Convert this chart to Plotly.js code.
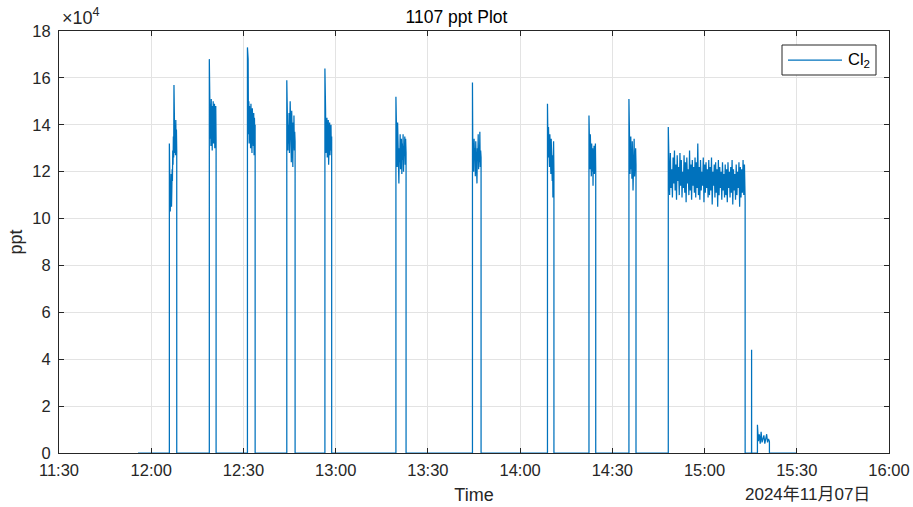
<!DOCTYPE html>
<html>
<head>
<meta charset="utf-8">
<script src="https://cdn.plot.ly/plotly-3.0.1.min.js"></script>
<style>html,body{margin:0;padding:0;background:#fff}#chart{width:913px;height:507px}</style>
</head>
<body>
<div id="chart"></div>
<script>
// ---- data (values in units of 10^4 ppt) ----
const chartDate = '2024-11-07';
const recordStart = '11:55:42';
const recordEnd = '15:30:00';

const segmentStarts = ['12:05:54','12:18:54','12:31:18','12:44:06','12:56:30','13:19:36','13:44:30','14:08:54','14:22:24','14:35:24','14:48:12','15:15:17','15:17:12'];
const segmentEnds   = ['12:08:18','12:21:06','12:33:48','12:46:48','12:58:42','13:22:54','13:47:18','14:11:00','14:24:36','14:37:42','15:13:12','15:15:19','15:21:06'];

const peak1  = [13.2, 11.8, 10.9, 10.3, 11.4, 10.6, 11.9, 10.5, 11.2, 12.1, 11.6, 12.9, 12.3, 13.5, 12.6, 15.7, 13.1, 14.1, 12.8, 13.9, 12.7, 14.2, 13.0, 13.8, 12.9];
const peak2  = [16.8, 14.2, 15.7, 13.4, 14.9, 13.1, 15.1, 13.6, 14.7, 12.9, 14.8, 13.8, 15.0, 13.2, 14.6, 13.5, 14.9, 13.0, 14.4, 13.7, 14.8, 13.3];
const peak3  = [17.3, 14.5, 16.8, 13.6, 15.0, 13.2, 14.8, 13.9, 14.4, 13.0, 14.9, 13.4, 14.6, 12.8, 14.7, 13.5, 14.2, 13.1, 14.5, 12.7, 14.3, 13.6, 14.0];
const peak4  = [15.9, 13.5, 14.2, 12.9, 14.0, 13.2, 14.5, 12.8, 13.9, 15.0, 13.1, 14.3, 12.4, 14.6, 13.4, 13.8, 12.2, 14.1, 13.0, 14.4, 12.9, 13.7, 13.3];
const peak5  = [16.4, 13.2, 14.6, 12.8, 14.0, 13.5, 14.3, 12.6, 13.9, 13.1, 14.2, 12.3, 13.8, 13.4, 14.1, 12.7, 13.6, 13.0, 14.0, 12.9, 13.5];
const peak6  = [15.2, 12.9, 13.5, 12.2, 14.1, 12.6, 13.3, 11.5, 13.0, 12.4, 13.6, 12.1, 12.8, 13.4, 11.9, 13.2, 12.5, 13.6, 12.0, 13.1, 12.7, 13.5, 12.3, 13.4, 12.8];
const peak7  = [15.8, 12.4, 13.2, 12.0, 13.4, 12.6, 13.0, 11.8, 13.3, 12.3, 12.9, 11.5, 13.0, 12.5, 13.6, 12.1, 12.8, 12.4, 13.7, 12.2, 12.9, 12.6];
const peak8  = [14.9, 13.2, 12.6, 13.9, 12.4, 13.5, 12.2, 13.6, 12.8, 13.1, 11.9, 13.4, 12.3, 13.0, 11.6, 12.7, 10.9, 12.5, 13.3, 12.0];
const peak9  = [14.4, 12.6, 13.3, 12.1, 13.6, 12.4, 12.9, 11.8, 13.2, 12.5, 12.0, 13.0, 11.4, 12.7, 12.2, 13.1, 11.9, 12.8, 12.3, 13.2, 12.0];
const peak10 = [15.1, 12.2, 13.0, 11.9, 12.6, 13.5, 12.1, 12.8, 11.7, 13.3, 12.4, 11.2, 12.9, 12.0, 13.4, 11.8, 12.5, 12.1, 13.0, 12.3];
const peak11 = [13.9,
  12.4, 11.0, 12.8, 11.3, 12.1, 10.9, 12.6, 11.5, 12.9, 11.2,
  12.3, 10.8, 12.7, 11.6, 12.2, 11.0, 12.8, 11.4, 12.5, 10.9,
  12.0, 11.3, 12.7, 11.1, 12.4, 10.7, 12.6, 11.5, 12.1, 11.0,
  12.9, 11.2, 12.3, 10.8, 12.5, 11.4, 12.2, 11.1, 12.6, 10.9,
  12.4, 11.3, 13.2, 11.0, 12.2, 10.8, 12.5, 11.2, 12.0, 11.4,
  12.6, 10.7, 12.3, 11.1, 12.4, 11.3, 12.1, 10.9, 12.5, 11.0,
  12.2, 11.2, 12.6, 10.6, 12.0, 11.4, 12.3, 10.9, 12.4, 11.1,
  12.1, 10.5, 12.5, 11.0, 12.2, 11.3, 12.0, 10.8, 12.4, 11.2,
  11.9, 10.9, 12.3, 11.0, 12.1, 10.7, 12.4, 11.3, 12.0, 10.9,
  12.2, 11.1, 12.5, 10.6, 12.1, 11.2, 11.9, 10.8, 12.3, 11.0,
  12.0, 11.3, 12.4, 10.5, 12.2, 10.9, 12.1, 11.1, 12.5, 11.0,
  12.3, 10.8];
const spike12 = [4.4];
const tail13  = [1.2, 0.5, 0.8, 0.4, 0.9, 0.45, 0.6, 0.75, 0.4, 0.55, 0.8, 0.45, 0.6, 0.5];

const segmentValues = [peak1, peak2, peak3, peak4, peak5, peak6, peak7, peak8, peak9, peak10, peak11, spike12, tail13];

const yTickLabels = ['0','2','4','6','8','10','12','14','16','18'];
const xTickLabels = ['11:30','12:00','12:30','13:00','13:30','14:00','14:30','15:00','15:30','16:00'];
const seriesName = 'Cl<sub>2</sub>';
const UNIT = 1e4;

// ---- build the series ----
function toSec(t){const p=t.split(':').map(Number);return p[0]*3600+p[1]*60+p[2];}
function pad(n){return (n<10?'0':'')+n;}
function toStamp(sec){
  const h=Math.floor(sec/3600), m=Math.floor((sec%3600)/60), s=sec-h*3600-m*60;
  return chartDate+' '+pad(h)+':'+pad(m)+':'+(s<10?'0':'')+s.toFixed(2);
}
const xs=[], ys=[];
xs.push(toStamp(toSec(recordStart))); ys.push(0);
segmentValues.forEach((vals,i)=>{
  const a=toSec(segmentStarts[i]), b=toSec(segmentEnds[i]);
  xs.push(toStamp(a)); ys.push(0);
  const n=vals.length;
  vals.forEach((v,k)=>{
    const t = n>1 ? a+(b-a)*k/(n-1) : (a+b)/2;
    xs.push(toStamp(t)); ys.push(v*UNIT);
  });
  xs.push(toStamp(b)); ys.push(0);
});
xs.push(toStamp(toSec(recordEnd))); ys.push(0);

const xTickVals = xTickLabels.map(l=>chartDate+' '+l+':00');
const yTickVals = yTickLabels.map(l=>Number(l)*UNIT);

const FONT = 'Liberation Sans, Arial, Helvetica, sans-serif';
const AX = '#262626';
const LINE = '#0072BD';

// plot-area pixel helpers for the hand-drawn legend box (plot: x 59..889, y 31..453)
const px = v => (v-59)/830;
const py = v => (453-v)/422;

const trace = {
  x: xs, y: ys, type: 'scatter', mode: 'lines', name: seriesName,
  line: {color: LINE, width: 1.25}, showlegend: false
};

const layout = {
  width: 913, height: 507,
  margin: {l: 59, r: 24, t: 31, b: 54},
  paper_bgcolor: '#fff', plot_bgcolor: '#fff',
  font: {family: FONT, color: AX, size: 16.5},
  title: {text: '1107 ppt Plot', font: {family: FONT, size: 17.5, color: '#000'}, x: 0.5, xanchor: 'center', y: 1-17/507, yanchor: 'middle'},
  xaxis: {
    type: 'date', range: [chartDate+' 11:30:00', chartDate+' 16:00:00'],
    tickmode: 'array', tickvals: xTickVals, ticktext: xTickLabels,
    ticks: 'inside', ticklen: 5, tickcolor: AX, tickwidth: 1,
    showline: true, linecolor: AX, linewidth: 1, mirror: 'ticks',
    showgrid: true, gridcolor: '#e3e3e3', zeroline: false,
    tickfont: {size: 16.5, color: AX}, ticklabelstandoff: 2,
    title: {text: 'Time', font: {size: 18, color: AX}, standoff: 10}
  },
  yaxis: {
    range: [0, 18*UNIT],
    tickmode: 'array', tickvals: yTickVals, ticktext: yTickLabels,
    ticks: 'inside', ticklen: 5, tickcolor: AX, tickwidth: 1,
    showline: true, linecolor: AX, linewidth: 1, mirror: 'ticks',
    showgrid: true, gridcolor: '#e3e3e3', zeroline: false,
    tickfont: {size: 16.5, color: AX}, ticklabelstandoff: 4,
    title: {text: 'ppt', font: {size: 18, color: AX}, standoff: 5}
  },
  showlegend: false,
  shapes: [
    {type: 'rect', xref: 'paper', yref: 'paper', x0: px(782), x1: px(876), y0: py(75), y1: py(45),
     line: {color: AX, width: 1}, fillcolor: '#fff', layer: 'above'},
    {type: 'line', xref: 'paper', yref: 'paper', x0: px(788), x1: px(842), y0: py(60), y1: py(60),
     line: {color: LINE, width: 1.25}, layer: 'above'}
  ],
  annotations: [
    {xref: 'paper', yref: 'paper', x: px(846), y: py(60), xanchor: 'left', yanchor: 'middle',
     text: seriesName, showarrow: false, font: {size: 16.5, color: '#000'}},
    {xref: 'paper', yref: 'paper', x: px(60), y: 1, xanchor: 'left', yanchor: 'bottom', yshift: 1,
     text: '×10<sup>4</sup>', showarrow: false, font: {size: 18, color: AX}},
    {xref: 'paper', yref: 'paper', x: px(807), y: 0, xanchor: 'center', yanchor: 'middle', yshift: -(494-453),
     text: '2024年11月07日', showarrow: false, font: {family: 'Liberation Sans, Noto Sans CJK SC, sans-serif', size: 17, color: AX}}
  ]
};

Plotly.newPlot('chart', [trace], layout, {displayModeBar: false, staticPlot: true});
</script>
</body>
</html>
